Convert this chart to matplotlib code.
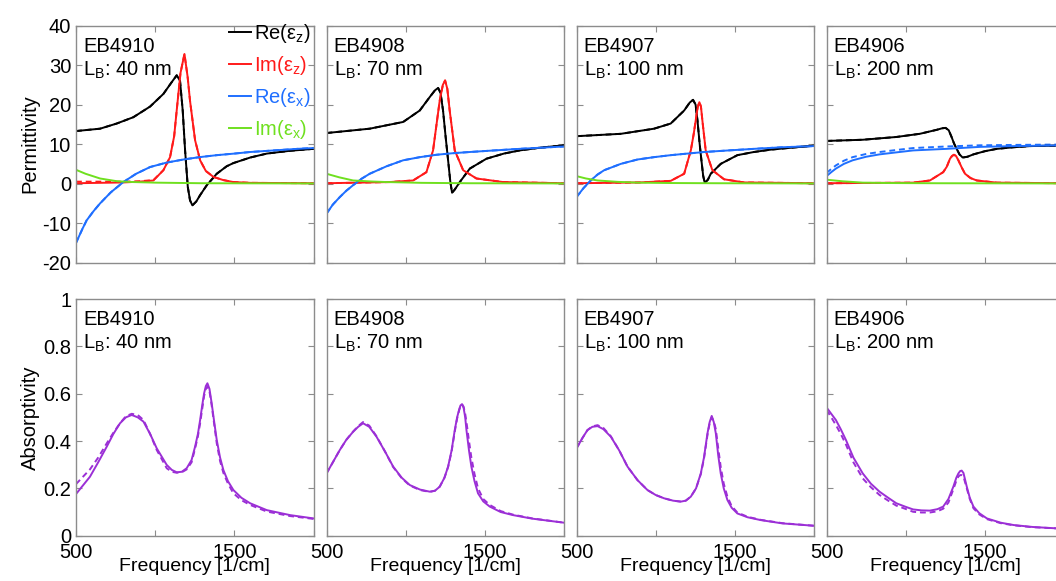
import matplotlib
matplotlib.use("Agg")
import matplotlib.pyplot as plt

plt.rcParams['font.family'] = ['Liberation Sans', 'DejaVu Sans']
plt.rcParams['mathtext.fontset'] = 'custom'
plt.rcParams['mathtext.rm'] = 'Liberation Sans'
plt.rcParams['mathtext.it'] = 'Liberation Sans:italic'
plt.rcParams['axes.unicode_minus'] = False

# sample names and barrier lengths
samples = ['EB4910', 'EB4908', 'EB4907', 'EB4906']
barriers = ['40 nm', '70 nm', '100 nm', '200 nm']

# ---- EB4910 permittivity ----
f_rez_a = [500, 652, 757, 862, 968, 1052, 1105, 1136, 1157, 1174, 1189, 1206, 1220, 1235, 1260, 1284, 1326, 1389, 1452, 1494, 1600, 1705, 1850, 2000]
rez_a = [13.3, 13.9, 15.2, 16.8, 19.5, 22.7, 25.7, 27.4, 26.0, 18.5, 8.4, -0.8, -4.2, -5.5, -4.5, -2.9, -0.4, 2.5, 4.4, 5.2, 6.6, 7.6, 8.3, 8.8]
f_imz_a = [500, 800, 900, 989, 1052, 1094, 1120, 1136, 1160, 1185, 1205, 1220, 1252, 1284, 1320, 1368, 1430, 1494, 1600, 2000]
imz_a = [0.1, 0.3, 0.5, 0.8, 3.4, 6.7, 12.0, 18.5, 28.0, 32.8, 27.0, 21.0, 11.0, 5.9, 3.2, 1.7, 0.9, 0.4, 0.2, 0.1]
imz_a_fit = [0.5, 0.5, 0.6, 0.9, 3.4, 6.7, 12.0, 18.5, 28.0, 32.8, 27.0, 21.0, 11.0, 5.9, 3.2, 1.7, 0.9, 0.4, 0.2, 0.1]
f_rex_a = [500, 540, 567, 610, 652, 720, 799, 880, 968, 1070, 1178, 1280, 1389, 1500, 1600, 1750, 1900, 2000]
rex_a = [-15.0, -11.5, -9.3, -7.0, -5.0, -2.2, 0.4, 2.5, 4.2, 5.3, 6.1, 6.7, 7.2, 7.6, 8.0, 8.4, 8.8, 9.0]
f_imx_a = [500, 560, 652, 760, 860, 1000, 1300, 2000]
imx_a = [3.5, 2.5, 1.3, 0.6, 0.4, 0.25, 0.1, 0.05]

# ---- EB4908 permittivity ----
f_rez_b = [500, 773, 984, 1089, 1152, 1185, 1205, 1220, 1236, 1252, 1268, 1282, 1293, 1310, 1342, 1405, 1510, 1620, 1720, 1850, 2000]
rez_b = [12.8, 13.9, 15.6, 18.5, 21.9, 23.6, 24.2, 23.0, 18.5, 12.0, 5.9, 0.5, -2.3, -1.5, 0.4, 3.8, 6.3, 7.6, 8.4, 9.1, 9.7]
f_imz_b = [500, 900, 1047, 1131, 1173, 1195, 1215, 1235, 1249, 1263, 1278, 1310, 1363, 1447, 1615, 2000]
imz_b = [0.1, 0.4, 0.8, 2.9, 8.4, 15.0, 21.0, 25.0, 26.1, 24.0, 18.5, 8.4, 3.4, 1.3, 0.4, 0.1]
f_rex_b = [500, 540, 584, 625, 668, 720, 773, 880, 984, 1090, 1194, 1300, 1405, 1560, 1720, 1860, 2000]
rex_b = [-7.6, -5.3, -3.4, -1.8, -0.4, 1.2, 2.5, 4.4, 5.9, 6.7, 7.3, 7.7, 8.0, 8.4, 8.8, 9.1, 9.4]
f_imx_b = [500, 580, 668, 780, 879, 1100, 1400, 2000]
imx_b = [2.5, 1.6, 0.8, 0.55, 0.4, 0.2, 0.1, 0.05]

# ---- EB4907 permittivity ----
f_rez_c = [500, 780, 990, 1095, 1180, 1215, 1236, 1252, 1264, 1278, 1289, 1300, 1310, 1330, 1348, 1411, 1516, 1620, 1727, 1860, 2000]
rez_c = [12.0, 12.6, 13.9, 15.2, 18.5, 20.5, 21.2, 20.0, 16.0, 10.0, 5.9, 2.0, 0.2, 1.0, 2.5, 5.0, 7.2, 8.0, 8.6, 9.1, 9.6]
f_imz_c = [500, 900, 1095, 1180, 1222, 1240, 1253, 1266, 1276, 1286, 1295, 1316, 1358, 1432, 1558, 2000]
imz_c = [0.1, 0.3, 0.7, 2.5, 8.4, 12.5, 16.0, 19.5, 20.6, 19.5, 16.0, 8.4, 3.4, 1.1, 0.3, 0.1]
f_rex_c = [500, 545, 590, 633, 675, 780, 885, 990, 1095, 1200, 1306, 1460, 1621, 1800, 2000]
rex_c = [-3.4, -1.1, 0.8, 2.3, 3.4, 5.0, 6.1, 6.7, 7.2, 7.6, 8.0, 8.4, 8.8, 9.2, 9.5]
f_imx_c = [500, 560, 633, 760, 885, 1100, 1400, 2000]
imx_c = [1.9, 1.3, 0.8, 0.45, 0.25, 0.15, 0.1, 0.05]

# ---- EB4906 permittivity ----
f_rez_d = [500, 729, 941, 1089, 1195, 1230, 1252, 1272, 1290, 1305, 1322, 1340, 1360, 1390, 1428, 1500, 1576, 1680, 1788, 1950, 2000]
rez_d = [10.8, 11.1, 11.8, 12.6, 13.6, 14.0, 14.1, 13.5, 11.8, 10.2, 8.8, 7.4, 6.6, 6.8, 7.4, 8.2, 8.8, 9.2, 9.5, 9.6, 9.7]
f_imz_d = [500, 1047, 1153, 1237, 1260, 1280, 1293, 1305, 1318, 1333, 1355, 1375, 1410, 1449, 1576, 2000]
imz_d = [0.1, 0.25, 0.8, 2.9, 4.3, 6.3, 7.0, 7.3, 7.0, 5.9, 4.0, 2.5, 1.4, 0.8, 0.25, 0.1]
f_rex_d = [500, 530, 559, 610, 665, 750, 835, 940, 1047, 1258, 1470, 1700, 2000]
rex_d = [1.9, 2.9, 3.8, 5.0, 5.9, 6.8, 7.4, 7.9, 8.4, 8.8, 9.3, 9.5, 9.7]
rex_d_fit = [2.7, 3.7, 4.6, 5.8, 6.7, 7.5, 8.0, 8.5, 9.0, 9.4, 9.7, 9.8, 9.9]
f_imx_d = [500, 600, 729, 900, 1200, 2000]
imx_d = [1.0, 0.6, 0.25, 0.15, 0.1, 0.05]

# ---- absorptivity (solid = measured, dashed = fit) ----
f_abs_a = [500, 588, 640, 694, 736, 778, 815, 852, 890, 926, 968, 1010, 1073, 1105, 1136, 1168, 1199, 1230, 1252, 1270, 1284, 1297, 1309, 1320, 1330, 1343, 1357, 1373, 1389, 1410, 1431, 1460, 1494, 1545, 1600, 1705, 1852, 2000]
abs_a = [0.176, 0.249, 0.31, 0.376, 0.43, 0.475, 0.50, 0.51, 0.50, 0.482, 0.43, 0.369, 0.299, 0.278, 0.268, 0.27, 0.285, 0.32, 0.376, 0.43, 0.489, 0.55, 0.601, 0.632, 0.644, 0.62, 0.559, 0.48, 0.404, 0.33, 0.277, 0.23, 0.193, 0.16, 0.137, 0.108, 0.087, 0.073]
abs_a_fit = [0.218, 0.28, 0.33, 0.39, 0.435, 0.475, 0.505, 0.515, 0.51, 0.489, 0.43, 0.362, 0.285, 0.27, 0.266, 0.268, 0.28, 0.31, 0.368, 0.42, 0.475, 0.535, 0.59, 0.62, 0.63, 0.61, 0.55, 0.47, 0.39, 0.315, 0.265, 0.22, 0.179, 0.15, 0.13, 0.102, 0.083, 0.071]

f_abs_b = [500, 540, 584, 625, 668, 700, 731, 770, 816, 870, 921, 975, 1026, 1090, 1152, 1185, 1215, 1245, 1268, 1290, 1310, 1325, 1337, 1346, 1356, 1366, 1376, 1384, 1400, 1415, 1435, 1457, 1490, 1531, 1600, 1678, 1800, 2000]
abs_b = [0.263, 0.31, 0.362, 0.405, 0.439, 0.46, 0.475, 0.46, 0.418, 0.355, 0.292, 0.245, 0.214, 0.195, 0.186, 0.19, 0.207, 0.245, 0.292, 0.36, 0.446, 0.50, 0.531, 0.55, 0.556, 0.54, 0.50, 0.446, 0.36, 0.292, 0.23, 0.179, 0.145, 0.123, 0.10, 0.087, 0.072, 0.055]
abs_b_fit = [0.263, 0.31, 0.362, 0.405, 0.44, 0.463, 0.48, 0.465, 0.42, 0.355, 0.29, 0.243, 0.212, 0.193, 0.185, 0.19, 0.207, 0.245, 0.29, 0.355, 0.44, 0.495, 0.528, 0.548, 0.555, 0.545, 0.515, 0.48, 0.40, 0.33, 0.26, 0.20, 0.155, 0.13, 0.104, 0.089, 0.073, 0.055]

f_abs_c = [500, 535, 569, 600, 633, 670, 717, 770, 822, 885, 948, 1000, 1053, 1110, 1159, 1190, 1222, 1255, 1285, 1305, 1327, 1341, 1354, 1367, 1380, 1395, 1411, 1430, 1453, 1480, 1516, 1580, 1663, 1800, 2000]
abs_c = [0.369, 0.41, 0.446, 0.46, 0.463, 0.45, 0.418, 0.36, 0.292, 0.235, 0.193, 0.172, 0.158, 0.148, 0.144, 0.148, 0.165, 0.20, 0.263, 0.33, 0.432, 0.48, 0.506, 0.48, 0.432, 0.34, 0.263, 0.20, 0.151, 0.118, 0.094, 0.078, 0.066, 0.052, 0.042]
abs_c_fit = [0.369, 0.41, 0.446, 0.462, 0.467, 0.455, 0.42, 0.36, 0.292, 0.235, 0.193, 0.172, 0.158, 0.148, 0.144, 0.148, 0.165, 0.20, 0.26, 0.325, 0.425, 0.475, 0.50, 0.485, 0.45, 0.37, 0.29, 0.22, 0.165, 0.125, 0.098, 0.08, 0.067, 0.053, 0.042]

f_abs_d = [500, 530, 559, 590, 623, 670, 729, 780, 835, 890, 941, 1000, 1047, 1100, 1153, 1200, 1237, 1270, 1301, 1320, 1333, 1344, 1354, 1365, 1386, 1405, 1428, 1465, 1513, 1600, 1682, 1800, 1953, 2000]
abs_d = [0.542, 0.515, 0.489, 0.45, 0.404, 0.33, 0.263, 0.22, 0.186, 0.16, 0.137, 0.122, 0.111, 0.107, 0.106, 0.112, 0.123, 0.155, 0.207, 0.245, 0.263, 0.273, 0.275, 0.265, 0.207, 0.16, 0.123, 0.095, 0.073, 0.055, 0.045, 0.037, 0.031, 0.030]
abs_d_fit = [0.531, 0.50, 0.468, 0.43, 0.385, 0.31, 0.242, 0.205, 0.172, 0.148, 0.127, 0.113, 0.101, 0.098, 0.098, 0.103, 0.114, 0.14, 0.196, 0.232, 0.25, 0.256, 0.256, 0.25, 0.20, 0.155, 0.116, 0.09, 0.07, 0.053, 0.044, 0.036, 0.031, 0.030]

BLACK = 'black'
RED = '#ff1a1a'
BLUE = '#1f6fff'
GREEN = '#6fe01f'
PURPLE = '#9b2fd6'
SPINE = '#8c8c8c'

perm = [
    (f_rez_a, rez_a, rez_a, f_imz_a, imz_a, imz_a_fit, f_rex_a, rex_a, rex_a, f_imx_a, imx_a),
    (f_rez_b, rez_b, rez_b, f_imz_b, imz_b, imz_b, f_rex_b, rex_b, rex_b, f_imx_b, imx_b),
    (f_rez_c, rez_c, rez_c, f_imz_c, imz_c, imz_c, f_rex_c, rex_c, rex_c, f_imx_c, imx_c),
    (f_rez_d, rez_d, rez_d, f_imz_d, imz_d, imz_d, f_rex_d, rex_d, rex_d_fit, f_imx_d, imx_d),
]
absorb = [
    (f_abs_a, abs_a, abs_a_fit),
    (f_abs_b, abs_b, abs_b_fit),
    (f_abs_c, abs_c, abs_c_fit),
    (f_abs_d, abs_d, abs_d_fit),
]

W, H = 1056, 581
fig = plt.figure(figsize=(W / 100, H / 100), dpi=100)

lefts = [76, 326.5, 576.5, 826.5]
pw = 237.5
FS = 14.5


def style_axes(ax):
    for s in ax.spines.values():
        s.set_color(SPINE)
        s.set_linewidth(1.0)
    ax.tick_params(direction='in', length=4, width=0.8, color=SPINE,
                   top=True, right=True, labelsize=FS)
    ax.set_xlim(500, 2000)
    ax.set_xticks([500, 1000, 1500, 2000])


def add_names(ax, i):
    ax.text(0.03, 0.89, samples[i], transform=ax.transAxes, fontsize=FS,
            va='baseline', ha='left')
    ax.text(0.03, 0.79, 'L$_{\\mathrm{B}}$: ' + barriers[i], transform=ax.transAxes,
            fontsize=FS, va='baseline', ha='left')


lw = 1.4
for i in range(4):
    # top row: permittivity
    ax = fig.add_axes([lefts[i] / W, 1 - 262.7 / H, pw / W, 237.2 / H])
    style_axes(ax)
    (fr, rz, rzf, fi, iz, izf, fx, rx, rxf, fix, ix) = perm[i]
    ax.plot(fr, rzf, color=BLACK, lw=lw, ls='--', dashes=(3, 2))
    ax.plot(fi, izf, color=RED, lw=lw, ls='--', dashes=(3, 2))
    ax.plot(fx, rxf, color=BLUE, lw=lw, ls='--', dashes=(3, 2))
    ax.plot(fr, rz, color=BLACK, lw=lw, label='Re(ε$_{\\mathrm{z}}$)')
    ax.plot(fi, iz, color=RED, lw=lw, label='Im(ε$_{\\mathrm{z}}$)')
    ax.plot(fx, rx, color=BLUE, lw=lw, label='Re(ε$_{\\mathrm{x}}$)')
    ax.plot(fix, ix, color=GREEN, lw=lw, label='Im(ε$_{\\mathrm{x}}$)')
    ax.set_ylim(-20, 40)
    ax.set_yticks([-20, -10, 0, 10, 20, 30, 40])
    ax.set_xticklabels([])
    if i == 0:
        ax.set_ylabel('Permittivity', fontsize=FS, labelpad=2)
        ax.legend(loc='upper right', bbox_to_anchor=(1.02, 1.05), frameon=False,
                  fontsize=FS, handlelength=1.1, handletextpad=0.12,
                  labelspacing=0.45, borderaxespad=0, labelcolor='linecolor')
    else:
        ax.set_yticklabels([])
    add_names(ax, i)

    # bottom row: absorptivity
    ax2 = fig.add_axes([lefts[i] / W, 1 - 535.7 / H, pw / W, 236.7 / H])
    style_axes(ax2)
    fa, aa, af = absorb[i]
    ax2.plot(fa, af, color=PURPLE, lw=lw, ls='--', dashes=(3, 2))
    ax2.plot(fa, aa, color=PURPLE, lw=lw)
    ax2.set_ylim(0, 1)
    ax2.set_yticks([0, 0.2, 0.4, 0.6, 0.8, 1])
    ax2.set_xticklabels(['500', '', '1500', ''])
    ax2.tick_params(axis='x', pad=5)
    ax2.set_xlabel('Frequency [1/cm]', fontsize=14, labelpad=-2.5)
    if i == 0:
        ax2.set_yticklabels(['0', '0.2', '0.4', '0.6', '0.8', '1'])
        ax2.set_ylabel('Absorptivity', fontsize=FS, labelpad=2)
    else:
        ax2.set_yticklabels([])
    add_names(ax2, i)

fig.savefig('out.png', dpi=100)
